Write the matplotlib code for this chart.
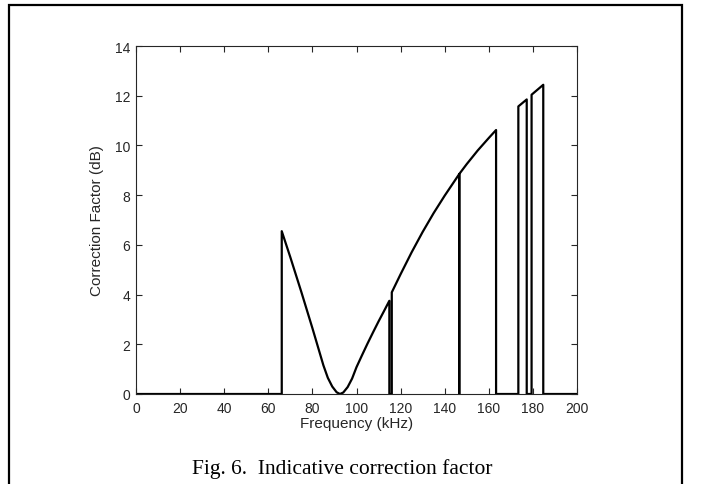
import matplotlib
matplotlib.use("Agg")
import matplotlib.pyplot as plt
from matplotlib.patches import Rectangle

# Data (frequency in kHz, correction factor in dB)
freq_khz = [0, 66.1, 66.1, 70, 75, 80, 85, 87, 89, 91, 92.5, 94, 96, 98, 100, 102.5,
            105, 107.5, 110, 112.5,
            114.9, 114.9, 116.0, 116.0, 120, 125, 130, 135, 140,
            146.6, 146.6, 146.6, 150, 155, 160, 163.3, 163.3, 173.4, 173.4,
            177.2, 177.2, 179.4, 179.4, 184.7, 184.7, 200]
corr_db = [0, 0, 6.55, 5.5, 4.1, 2.65, 1.15, 0.65, 0.3, 0.07, 0.0, 0.06, 0.28, 0.62, 1.08, 1.56,
           2.03, 2.48, 2.92, 3.34,
           3.75, 0, 0, 4.09, 4.82, 5.7, 6.52, 7.28, 7.98,
           8.85, 0, 8.85, 9.25, 9.8, 10.3, 10.62, 0, 0, 11.57,
           11.85, 0, 0, 12.04, 12.44, 0, 0]

x_ticks = list(range(0, 201, 20))
y_ticks = list(range(0, 15, 2))
x_label = "Frequency (kHz)"
y_label = "Correction Factor (dB)"
caption = "Fig. 6.  Indicative correction factor"

W, H = 701, 485
fig = plt.figure(figsize=(W / 100, H / 100), dpi=100)
plt.rcParams['font.family'] = ['Liberation Sans', 'DejaVu Sans']

# axes placement in pixels
left, right, top, bottom = 136, 577, 47, 395
ax = fig.add_axes([left / W, 1 - bottom / H, (right - left) / W, (bottom - top) / H])
ax.plot(freq_khz, corr_db, color='black', linewidth=1.6, solid_joinstyle='round')
ax.set_xlim(0, 200)
ax.set_ylim(0, 14)
ax.set_xticks(x_ticks)
ax.set_yticks(y_ticks)
ax.tick_params(direction='in', top=True, right=True, length=4, width=0.8,
               labelsize=10, colors='#262626')
ax.tick_params(axis='x', pad=5)
ax.tick_params(axis='y', pad=4)
for s in ax.spines.values():
    s.set_linewidth(0.8)
    s.set_color('#262626')
ax.set_xlabel(x_label, fontsize=11, color='#262626', labelpad=1)
ax.set_ylabel(y_label, fontsize=11, color='#262626', labelpad=8)

# caption
fig.text(342 / W, 1 - 469 / H, caption, ha='center', va='center',
         fontsize=15.5, family=['Liberation Serif', 'DejaVu Serif'], color='black')

# frame around the figure (open at the bottom)
frame = Rectangle((9 / W, -0.1), (682 - 9) / W, 1.1 - 6 / H, transform=fig.transFigure,
                  fill=False, edgecolor='black', linewidth=1.6, clip_on=False)
fig.patches.append(frame)

fig.savefig("out.png", dpi=100)
